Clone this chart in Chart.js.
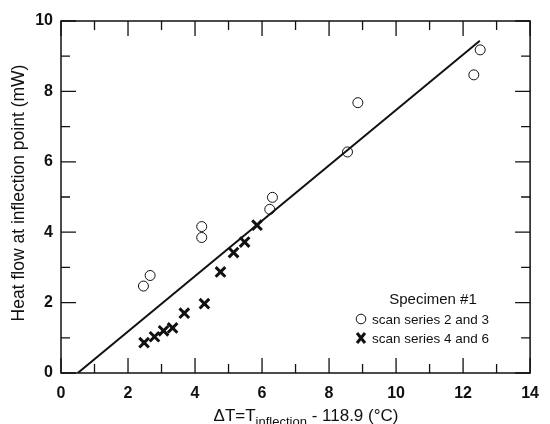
<!DOCTYPE html>
<html>
<head>
<meta charset="utf-8">
<script src="https://cdn.jsdelivr.net/npm/chart.js@4.4.1/dist/chart.umd.min.js"></script>
<style>
  html, body { margin: 0; padding: 0; background: #fff; }
  #wrap { width: 550px; height: 424px; }
</style>
</head>
<body>
<div id="wrap"><canvas id="chart" width="550" height="424"></canvas></div>
<script>
// values
const circleX = [2.46, 2.66, 4.2, 4.2, 6.23, 6.31, 8.55, 8.86, 12.32, 12.51];
const circleY = [2.47, 2.77, 3.85, 4.16, 4.65, 4.99, 6.28, 7.68, 8.47, 9.18];
const crossX = [2.48, 2.79, 3.06, 3.33, 3.68, 4.28, 4.76, 5.15, 5.48, 5.85];
const crossY = [0.86, 1.03, 1.2, 1.28, 1.7, 1.97, 2.87, 3.42, 3.72, 4.2];
const fitX = [0.5, 12.5];
const fitY = [0, 9.44];

const xTicks = [0, 2, 4, 6, 8, 10, 12, 14];
const yTicks = [0, 2, 4, 6, 8, 10];

const legendTitle = 'Specimen #1';
const legendLabels = ['scan series 2 and 3', 'scan series 4 and 6'];
const yTitle = 'Heat flow at inflection point (mW)';

const FONT = '"Liberation Sans", Arial, Helvetica, sans-serif';
const INK = '#111';

function toPoints(xs, ys){
    return xs.map((x, i) => ({x: x, y: ys[i]}));
}

// frame, inward ticks, titles and legend
const decor = {
    id: 'decor',
    afterDraw(chart){
        const ctx = chart.ctx;
        const a = chart.chartArea;
        const xs = chart.scales.x;
        const ys = chart.scales.y;
        ctx.save();
        ctx.strokeStyle = INK;
        ctx.lineWidth = 1.5;
        ctx.strokeRect(a.left, a.top, a.right - a.left, a.bottom - a.top);

        ctx.lineWidth = 1.3;
        ctx.beginPath();
        for(let v = 0; v <= 14; v++){
            const len = v % 2 === 0 ? 15 : 9;
            const px = xs.getPixelForValue(v);
            ctx.moveTo(px, a.bottom); ctx.lineTo(px, a.bottom - len);
            ctx.moveTo(px, a.top); ctx.lineTo(px, a.top + len);
        }
        for(let v = 0; v <= 10; v++){
            const len = v % 2 === 0 ? 15 : 9;
            const py = ys.getPixelForValue(v);
            ctx.moveTo(a.left, py); ctx.lineTo(a.left + len, py);
            ctx.moveTo(a.right, py); ctx.lineTo(a.right - len, py);
        }
        ctx.stroke();

        // y title
        ctx.fillStyle = INK;
        ctx.save();
        ctx.translate(19, 193);
        ctx.rotate(-Math.PI / 2);
        ctx.font = '17.5px ' + FONT;
        ctx.textAlign = 'center';
        ctx.textBaseline = 'middle';
        ctx.fillText(yTitle, 0, 0);
        ctx.restore();

        // x title with subscript
        const mainFont = '17px ' + FONT;
        const subFont = '13px ' + FONT;
        const parts = [['\u0394T=T', mainFont, 421], ['inflection', subFont, 426], [' - 118.9 (\u00B0C)', mainFont, 421]];
        let total = 0;
        parts.forEach(p => { ctx.font = p[1]; total += ctx.measureText(p[0]).width; });
        let cx = 306 - total / 2;
        ctx.textAlign = 'left';
        ctx.textBaseline = 'alphabetic';
        parts.forEach(p => {
            ctx.font = p[1];
            ctx.fillText(p[0], cx, p[2]);
            cx += ctx.measureText(p[0]).width;
        });

        // legend
        ctx.font = '15px ' + FONT;
        ctx.textAlign = 'center';
        ctx.fillText(legendTitle, 433, 304);
        ctx.font = '13.5px ' + FONT;
        ctx.textAlign = 'left';
        ctx.fillText(legendLabels[0], 372, 324);
        ctx.fillText(legendLabels[1], 372, 343);

        ctx.lineWidth = 1;
        ctx.beginPath();
        ctx.arc(361, 319, 4.8, 0, Math.PI * 2);
        ctx.stroke();
        ctx.lineWidth = 3;
        ctx.beginPath();
        ctx.moveTo(357, 333); ctx.lineTo(365, 343);
        ctx.moveTo(365, 333); ctx.lineTo(357, 343);
        ctx.stroke();
        ctx.restore();
    }
};

new Chart(document.getElementById('chart'), {
    type: 'scatter',
    data: {
        datasets: [
            {
                type: 'line',
                label: 'fit',
                data: toPoints(fitX, fitY),
                borderColor: INK,
                borderWidth: 2,
                pointRadius: 0,
                fill: false
            },
            {
                label: legendLabels[0],
                data: toPoints(circleX, circleY),
                pointStyle: 'circle',
                pointRadius: 5,
                borderWidth: 1,
                borderColor: INK,
                backgroundColor: '#fff'
            },
            {
                label: legendLabels[1],
                data: toPoints(crossX, crossY),
                pointStyle: 'crossRot',
                pointRadius: 6.8,
                borderWidth: 3,
                borderColor: INK,
                backgroundColor: INK
            }
        ]
    },
    options: {
        responsive: false,
        animation: false,
        layout: { padding: { top: 21, right: 7, left: 0, bottom: 0 } },
        plugins: { legend: { display: false }, tooltip: { enabled: false } },
        scales: {
            x: {
                type: 'linear', min: 0, max: 14,
                afterFit(scale){ scale.height = 51; },
                afterBuildTicks(scale){ scale.ticks = xTicks.map(v => ({value: v})); },
                grid: { display: false, drawTicks: false },
                border: { display: false },
                ticks: { padding: 11, color: INK, font: { family: FONT, size: 16, weight: 'bold' } }
            },
            y: {
                type: 'linear', min: 0, max: 10,
                afterFit(scale){ scale.width = 61; },
                afterBuildTicks(scale){ scale.ticks = yTicks.map(v => ({value: v})); },
                grid: { display: false, drawTicks: false },
                border: { display: false },
                ticks: { padding: 8, color: INK, font: { family: FONT, size: 16, weight: 'bold' } }
            }
        }
    },
    plugins: [decor]
});
</script>
</body>
</html>
